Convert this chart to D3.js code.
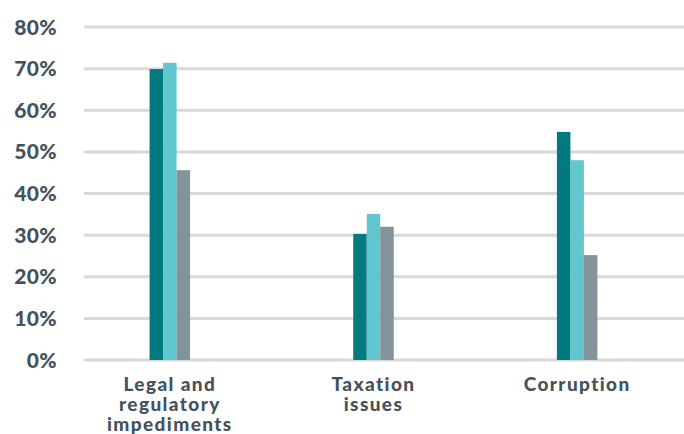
<!DOCTYPE html>
<html>
<head>
<meta charset="utf-8">
<script src="https://cdn.jsdelivr.net/npm/d3@7"></script>
<style>
  html, body { margin: 0; padding: 0; background: #fff; }
  svg text { font-family: Lato, "Open Sans", sans-serif; font-weight: 900; fill: #44525c; }
</style>
</head>
<body>
<svg id="chart" width="684" height="434"></svg>
<script>
// values (percent)
const categories = [['Legal and', 'regulatory', 'impediments'], ['Taxation', 'issues'], ['Corruption']];
const seriesNames = ['s1', 's2', 's3'];
const series1 = [69.9, 30.3, 54.8];
const series2 = [71.4, 35.1, 48.0];
const series3 = [45.6, 32.0, 25.2];
const yTicks = [0, 10, 20, 30, 40, 50, 60, 70, 80];
const colors = ['#007a80', '#62c6ce', '#83939c'];

const allSeries = [series1, series2, series3];
const svg = d3.select('#chart');

const y = d3.scaleLinear().domain([0, 80]).range([360, 27]);
const x0 = d3.scaleBand().domain(d3.range(categories.length)).range([68, 679]);
const x1 = d3.scaleBand().domain(seriesNames).range([-20.25, 20.25]);

// gridlines
svg.append('g')
    .selectAll('line')
    .data(yTicks)
    .join('line')
    .attr('x1', 84)
    .attr('x2', 684)
    .attr('y1', d => y(d))
    .attr('y2', d => y(d))
    .attr('stroke', '#d9d9d9')
    .attr('stroke-width', 3);

// y tick labels
svg.append('g')
    .selectAll('text')
    .data(yTicks)
    .join('text')
    .attr('x', 57)
    .attr('y', d => y(d))
    .attr('dy', '0.36em')
    .attr('text-anchor', 'end')
    .style('font-size', '21px')
    .style('letter-spacing', '0.3px')
    .text(d => d + '%');

// bars
const groups = svg.append('g')
    .selectAll('g')
    .data(categories.map((c, i) => i))
    .join('g')
    .attr('transform', i => `translate(${x0(i) + x0.bandwidth() / 2},0)`);

groups.selectAll('rect')
    .data(i => allSeries.map((s, k) => ({ k, v: s[i] })))
    .join('rect')
    .attr('x', d => x1(seriesNames[d.k]))
    .attr('width', x1.bandwidth())
    .attr('y', d => y(d.v))
    .attr('height', d => y(0) - y(d.v))
    .attr('fill', d => colors[d.k]);

// category labels
const labels = svg.append('g')
    .selectAll('text')
    .data(categories)
    .join('text')
    .attr('text-anchor', 'middle')
    .attr('y', 391)
    .style('font-size', '19px')
    .style('letter-spacing', '1.4px')
    .attr('transform', (d, i) => `translate(${x0(i) + x0.bandwidth() / 2},0)`);

labels.selectAll('tspan')
    .data(d => d)
    .join('tspan')
    .attr('x', 0)
    .attr('dy', (d, i) => i === 0 ? 0 : 20)
    .text(d => d);
</script>
</body>
</html>
